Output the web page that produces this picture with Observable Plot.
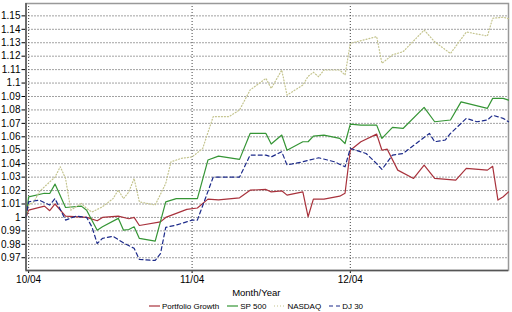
<!DOCTYPE html>
<html>
<head>
<meta charset="utf-8">
<script src="https://cdn.jsdelivr.net/npm/d3@7"></script>
<script src="https://cdn.jsdelivr.net/npm/@observablehq/plot@0.6"></script>
<style>
  html, body { margin: 0; padding: 0; background: #fff; }
  body { width: 512px; height: 312px; overflow: hidden; font-family: "Liberation Sans", Arial, sans-serif; }
  #legend { display: flex; justify-content: center; align-items: center; height: 12px; font-size: 8px; color: #000; margin-left: 0px; }
  #legend .item { display: flex; align-items: center; margin: 0 4px; }
  #legend svg { margin-right: 2px; }
</style>
</head>
<body>
<div id="chart"></div>
<div id="legend"></div>
<script>
// ---- data ----
const seriesNames = ["Portfolio Growth", "SP 500", "NASDAQ", "DJ 30"];
const seriesColors = ["#a8323c", "#359535", "#c4c48e", "#1c2a8a"];
const seriesDash = [null, null, "1,2", "4,3"];

const portfolioDates = ["2004-09-30T12:00","2004-10-01","2004-10-04","2004-10-05","2004-10-06","2004-10-08","2004-10-12","2004-10-14","2004-10-15","2004-10-18","2004-10-20","2004-10-21","2004-10-22","2004-10-26","2004-10-27","2004-10-29","2004-10-31","2004-11-02","2004-11-04","2004-11-06","2004-11-10","2004-11-12","2004-11-15","2004-11-16","2004-11-18","2004-11-19","2004-11-22","2004-11-23","2004-11-24","2004-11-26","2004-11-29","2004-11-30","2004-12-01","2004-12-03","2004-12-06","2004-12-07","2004-12-08","2004-12-10","2004-12-13","2004-12-15","2004-12-17","2004-12-21","2004-12-23","2004-12-27","2004-12-28","2004-12-29","2004-12-30","2004-12-31"];
const portfolioValues = [1.000,1.0054,1.0084,1.005,1.010,1.001,1.000,0.9975,1.000,1.001,0.999,1.000,0.994,0.9967,1.000,1.003,1.006,1.007,1.0136,1.013,1.0146,1.0203,1.0208,1.019,1.0198,1.0166,1.019,1.0005,1.0136,1.0136,1.0158,1.018,1.050,1.0563,1.062,1.050,1.0508,1.0352,1.029,1.039,1.029,1.0278,1.0365,1.0352,1.038,1.0129,1.0154,1.019];

const sp500Dates = ["2004-09-30T12:00","2004-10-01","2004-10-04","2004-10-05","2004-10-06","2004-10-08","2004-10-11","2004-10-12","2004-10-14","2004-10-15","2004-10-18","2004-10-19","2004-10-20","2004-10-21","2004-10-22","2004-10-25","2004-10-27","2004-10-29","2004-11-02","2004-11-04","2004-11-06","2004-11-10","2004-11-12","2004-11-15","2004-11-16","2004-11-18","2004-11-19","2004-11-22","2004-11-23","2004-11-24","2004-11-26","2004-11-29","2004-11-30","2004-12-01","2004-12-03","2004-12-06","2004-12-07","2004-12-09","2004-12-11","2004-12-15","2004-12-17","2004-12-20","2004-12-22","2004-12-27","2004-12-28","2004-12-30","2004-12-31"];
const sp500Values = [1.0,1.0153,1.018,1.0178,1.0248,1.0074,1.0084,1.0054,0.9905,0.993,0.9993,0.9905,0.991,0.993,0.9844,0.9823,1.0116,1.014,1.014,1.0427,1.0456,1.0432,1.0625,1.0625,1.0546,1.0613,1.050,1.0563,1.0563,1.0605,1.0613,1.0588,1.055,1.0695,1.0687,1.0687,1.0588,1.067,1.0662,1.0819,1.0712,1.0725,1.086,1.0812,1.0886,1.0886,1.0873];

const nasdaqDates = ["2004-09-30T12:00","2004-10-01","2004-10-02","2004-10-03","2004-10-04","2004-10-06","2004-10-07","2004-10-08","2004-10-09","2004-10-11","2004-10-12","2004-10-13","2004-10-15","2004-10-17","2004-10-18","2004-10-19","2004-10-20","2004-10-21","2004-10-22","2004-10-25","2004-10-27","2004-10-28","2004-10-30","2004-11-01","2004-11-03","2004-11-05","2004-11-08","2004-11-10","2004-11-12","2004-11-15","2004-11-16","2004-11-18","2004-11-19","2004-11-22","2004-11-23","2004-11-24","2004-11-25","2004-11-26","2004-11-29","2004-11-30","2004-12-01","2004-12-06","2004-12-07","2004-12-09","2004-12-11","2004-12-15","2004-12-17","2004-12-20","2004-12-23","2004-12-27","2004-12-28","2004-12-30","2004-12-31"];
const nasdaqValues = [1.0,1.0092,1.0116,1.019,1.0228,1.030,1.0377,1.029,1.0054,1.0104,1.0067,1.004,1.0079,1.014,1.0203,1.014,1.019,1.029,1.0116,1.0092,1.0253,1.0414,1.044,1.045,1.0513,1.075,1.075,1.08,1.0948,1.1035,1.096,1.1097,1.091,1.0985,1.105,1.108,1.1047,1.1097,1.1097,1.106,1.1296,1.1345,1.1147,1.121,1.1233,1.1394,1.1307,1.122,1.138,1.135,1.1482,1.149,1.148];

const dj30Dates = ["2004-09-30T12:00","2004-10-01","2004-10-03","2004-10-05","2004-10-06","2004-10-08","2004-10-10","2004-10-12","2004-10-13","2004-10-14","2004-10-15","2004-10-17","2004-10-19","2004-10-21","2004-10-22","2004-10-25","2004-10-26","2004-10-27","2004-10-29","2004-11-01","2004-11-02","2004-11-05","2004-11-10","2004-11-12","2004-11-15","2004-11-16","2004-11-18","2004-11-19","2004-11-22","2004-11-25","2004-11-28","2004-11-30","2004-12-01","2004-12-04","2004-12-06","2004-12-07","2004-12-09","2004-12-11","2004-12-16","2004-12-17","2004-12-19","2004-12-20","2004-12-23","2004-12-25","2004-12-27","2004-12-28","2004-12-30","2004-12-31"];
const dj30Values = [1.0,1.0116,1.0129,1.0092,1.014,0.998,1.001,1.0,0.993,0.9806,0.9844,0.986,0.981,0.977,0.9687,0.968,0.973,0.9926,0.9943,0.998,0.998,1.030,1.030,1.0464,1.0464,1.045,1.0489,1.039,1.0414,1.0444,1.0414,1.0377,1.0513,1.0476,1.040,1.0357,1.0464,1.0476,1.0625,1.0563,1.0576,1.0625,1.0737,1.0712,1.0725,1.076,1.0737,1.0712];

const yTicks = [0.97,0.98,0.99,1.00,1.01,1.02,1.03,1.04,1.05,1.06,1.07,1.08,1.09,1.10,1.11,1.12,1.13,1.14,1.15];
const xTickDates = ["2004-10-01","2004-11-01","2004-12-01"];
const xTickLabels = ["10/04","11/04","12/04"];
const xLabel = "Month/Year";

// ---- build ----
const parse = s => new Date(s.length > 10 ? s + ":00Z" : s + "T00:00:00Z");
const allDates = [portfolioDates, sp500Dates, nasdaqDates, dj30Dates];
const allValues = [portfolioValues, sp500Values, nasdaqValues, dj30Values];
const rows = [];
seriesNames.forEach((name, k) => {
  allDates[k].forEach((d, i) => rows.push({series: name, date: parse(d), value: allValues[k][i]}));
});
const xTicks = xTickDates.map(parse);

const lineMarks = seriesNames.map((name, k) =>
  Plot.line(rows.filter(r => r.series === name), {
    x: "date", y: "value", stroke: seriesColors[k], strokeWidth: 1.2,
    strokeDasharray: seriesDash[k] || undefined
  })
);

const chart = Plot.plot({
  width: 512,
  height: 300,
  marginLeft: 25.5,
  marginRight: 4,
  marginTop: 3,
  marginBottom: 30,
  style: { fontFamily: "'Liberation Sans', Arial, sans-serif", fontSize: "10px", background: "#fff", color: "#000" },
  x: {
    type: "utc",
    domain: [parse("2004-09-30T12:00"), parse("2004-12-31")],
    ticks: xTicks,
    tickFormat: d => xTickLabels[xTicks.findIndex(t => +t === +d)],
    tickSize: 3,
    tickPadding: 2,
    label: null
  },
  y: {
    domain: [0.9605, 1.1592],
    ticks: yTicks,
    tickFormat: d => String(+d.toFixed(2)),
    tickSize: 4,
    tickPadding: 1.5,
    label: null
  },
  marks: [
    Plot.ruleY(yTicks, {stroke: "#444", strokeDasharray: "1,2", strokeWidth: 1}),
    Plot.ruleX(xTicks, {stroke: "#444", strokeDasharray: "1,2", strokeWidth: 1}),
    Plot.frame({stroke: "#999", strokeWidth: 1.5}),
    ...lineMarks,
    Plot.ruleX([parse("2004-09-30T12:00")], {stroke: "#555", strokeWidth: 1.5}),
    Plot.ruleY([0.9605], {stroke: "#555", strokeWidth: 1.5}),
    Plot.text([xLabel], {frameAnchor: "bottom", dy: 25, dx: -11, fontSize: 9.5, text: d => d})
  ]
});
document.getElementById("chart").appendChild(chart);

// legend
const legend = document.getElementById("legend");
seriesNames.forEach((name, k) => {
  const item = document.createElement("div");
  item.className = "item";
  const dash = seriesDash[k] ? `stroke-dasharray="${seriesDash[k]}"` : "";
  item.innerHTML = `<svg width="11" height="6"><line x1="0" y1="3" x2="11" y2="3" stroke="${seriesColors[k]}" stroke-width="1.2" ${dash}></line></svg><span>${name}</span>`;
  legend.appendChild(item);
});
</script>
</body>
</html>
